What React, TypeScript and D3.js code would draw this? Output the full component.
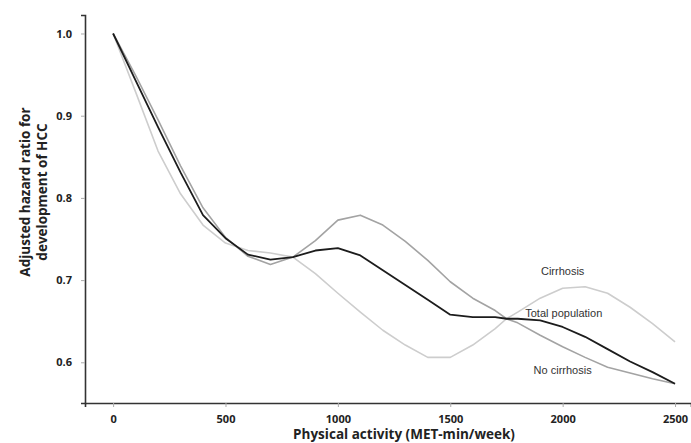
import React, { useEffect, useRef } from 'react';
import * as d3 from 'd3';

const activity = [0, 100, 200, 300, 400, 500, 600, 700, 800, 900, 1000, 1100, 1200, 1300, 1400, 1500, 1600, 1700, 1750, 1800, 1900, 2000, 2100, 2200, 2300, 2400, 2500];

const totalPopulation = [1.0, 0.943, 0.886, 0.831, 0.779, 0.751, 0.731, 0.725, 0.728, 0.736, 0.739, 0.730, 0.712, 0.694, 0.676, 0.658, 0.655, 0.655, 0.653, 0.653, 0.651, 0.643, 0.631, 0.616, 0.601, 0.588, 0.574];
const noCirrhosis = [1.0, 0.949, 0.895, 0.839, 0.788, 0.752, 0.729, 0.719, 0.728, 0.748, 0.773, 0.779, 0.767, 0.747, 0.724, 0.698, 0.678, 0.663, 0.653, 0.648, 0.633, 0.619, 0.606, 0.594, 0.587, 0.580, 0.574];
const cirrhosis = [1.0, 0.929, 0.857, 0.805, 0.767, 0.745, 0.736, 0.733, 0.728, 0.708, 0.684, 0.661, 0.639, 0.621, 0.606, 0.606, 0.621, 0.641, 0.653, 0.661, 0.678, 0.690, 0.692, 0.684, 0.667, 0.647, 0.625];

const xTicks = [0, 500, 1000, 1500, 2000, 2500];
const yTicks = [0.6, 0.7, 0.8, 0.9, 1.0];

const series = [
    { name: 'Cirrhosis', values: cirrhosis, color: '#cdcdcd', width: 1.6 },
    { name: 'No cirrhosis', values: noCirrhosis, color: '#a3a3a3', width: 1.6 },
    { name: 'Total population', values: totalPopulation, color: '#1c1c1c', width: 1.8 },
];

const labels = [
    { text: 'Cirrhosis', x: 2000, y: 0.7095 },
    { text: 'Total population', x: 2005, y: 0.6588 },
    { text: 'No cirrhosis', x: 2000, y: 0.5894 },
];

const width = 691;
const height = 443;

const App: React.FC = () => {
    const svgRef = useRef<SVGSVGElement | null>(null);

    useEffect(() => {
        const svg = d3.select(svgRef.current);
        svg.selectAll('*').remove();

        const xScale = d3.scaleLinear().domain([-125, 2571]).range([85, 691]);
        const yScale = d3.scaleLinear().domain([0.5505, 1.0225]).range([403, 15]);

        const tickFont = "'Open Sans', 'DejaVu Sans', sans-serif";

        // curves
        series.forEach((s) => {
            const line = d3
                .line<number>()
                .x((_, i) => xScale(activity[i]))
                .y((d) => yScale(d));
            svg
                .append('path')
                .datum(s.values)
                .attr('d', line)
                .style('fill', 'none')
                .style('stroke', s.color)
                .style('stroke-width', `${s.width}px`)
                .style('stroke-linejoin', 'round');
        });

        // x axis
        const xAxis = svg
            .append('g')
            .attr('transform', `translate(0, ${yScale(0.5505)})`)
            .call(d3.axisBottom(xScale).tickValues(xTicks).tickSize(4).tickFormat(d3.format('d')));
        xAxis.select('.domain').attr('stroke', '#333').attr('stroke-width', 1.6);
        xAxis.selectAll('.tick line').attr('stroke', '#aaa');
        xAxis
            .selectAll('.tick text')
            .attr('y', 12)
            .style('font-family', tickFont)
            .style('font-size', '11px')
            .style('font-weight', 'bold')
            .style('fill', '#222');

        // y axis
        const yAxis = svg
            .append('g')
            .attr('transform', `translate(${xScale(-125)}, 0)`)
            .call(d3.axisLeft(yScale).tickValues(yTicks).tickSize(4).tickFormat(d3.format('.1f')));
        yAxis.select('.domain').attr('stroke', '#333').attr('stroke-width', 1.6);
        yAxis.selectAll('.tick line').attr('stroke', '#aaa');
        yAxis
            .selectAll('.tick text')
            .attr('x', -13)
            .style('font-family', tickFont)
            .style('font-size', '11px')
            .style('font-weight', 'bold')
            .style('fill', '#222');

        // series labels
        svg
            .selectAll('.series-label')
            .data(labels)
            .enter()
            .append('text')
            .attr('class', 'series-label')
            .attr('x', (d) => xScale(d.x))
            .attr('y', (d) => yScale(d.y))
            .attr('text-anchor', 'middle')
            .attr('dominant-baseline', 'middle')
            .style('font-family', "'Liberation Sans', Arial, sans-serif")
            .style('font-size', '11px')
            .style('fill', '#333')
            .text((d) => d.text);

        // axis titles
        svg
            .append('text')
            .attr('x', 404)
            .attr('y', 439)
            .attr('text-anchor', 'middle')
            .style('font-family', tickFont)
            .style('font-size', '13.5px')
            .style('font-weight', 'bold')
            .style('fill', '#222')
            .text('Physical activity (MET-min/week)');

        const yTitle = svg
            .append('text')
            .attr('transform', 'translate(30, 192) rotate(-90)')
            .attr('text-anchor', 'middle')
            .style('font-family', tickFont)
            .style('font-size', '13.5px')
            .style('font-weight', 'bold')
            .style('fill', '#222');
        yTitle.append('tspan').attr('x', 0).attr('dy', 0).text('Adjusted hazard ratio for');
        yTitle.append('tspan').attr('x', 0).attr('dy', 17).text('development of HCC');
    }, []);

    return (
        <svg
            ref={svgRef}
            width={width}
            height={height}
            style={{ position: 'absolute', left: 0, top: 0, background: '#fff' }}
        ></svg>
    );
};

export default App;
